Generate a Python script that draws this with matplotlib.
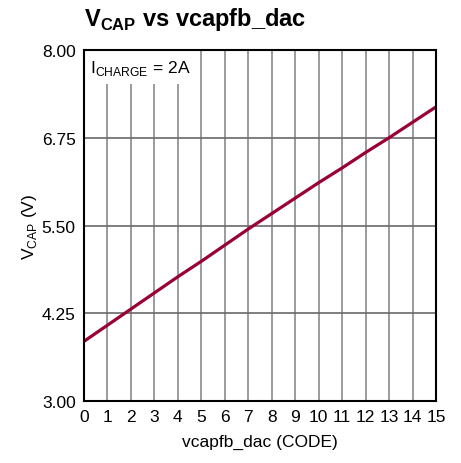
import numpy as np
import matplotlib
matplotlib.use('Agg')
import matplotlib.pyplot as plt
from matplotlib import font_manager

# Data
codes = np.arange(0, 16)
vcap = [3.85, 4.08, 4.31, 4.54, 4.77, 4.99, 5.22, 5.45,
        5.67, 5.89, 6.11, 6.32, 6.54, 6.75, 6.97, 7.19]
y_ticks = [3.00, 4.25, 5.50, 6.75, 8.00]
x_ticks = list(range(0, 16))

names = {f.name for f in font_manager.fontManager.ttflist}
fam = 'Liberation Sans Narrow' if 'Liberation Sans Narrow' in names else 'Liberation Sans'
plt.rcParams['font.family'] = [fam, 'DejaVu Sans']
plt.rcParams['mathtext.fontset'] = 'custom'
plt.rcParams['mathtext.rm'] = fam
plt.rcParams['mathtext.bf'] = fam + ':bold'

fig = plt.figure(figsize=(4.61, 4.64), dpi=100)
ax = fig.add_axes([0.1822, 0.1336, 0.7636, 0.7565])

ax.plot(codes, vcap, color='#990033', lw=2.3, zorder=3, solid_capstyle='butt')

ax.set_xlim(0, 15)
ax.set_ylim(3, 8)
ax.set_xticks(x_ticks)
ax.set_yticks(y_ticks)
ax.set_yticklabels(['%.2f' % v for v in y_ticks])
ax.tick_params(length=0, labelsize=12.5, pad=6)

for x in x_ticks[1:-1]:
    ax.axvline(x, color='#8a8a8a', lw=1.2, zorder=1)
for y in y_ticks[1:-1]:
    ax.axhline(y, color='#6a6a6a', lw=1.2, zorder=1)

for s in ax.spines.values():
    s.set_linewidth(1.5)
    s.set_color('black')
    s.set_zorder(4)

ax.set_xlabel('vcapfb_dac (CODE)', fontsize=12.5, labelpad=7)
ax.set_ylabel(r'V$_{\mathrm{CAP}}$ (V)', fontsize=12.5, labelpad=2)

ax.text(0.25, 7.88, r'I$_{\mathrm{CHARGE}}$ = 2A', fontsize=12.5, va='top', ha='left',
        zorder=2, bbox=dict(facecolor='white', edgecolor='none', pad=5))

fig.text(0.183, 0.945, r'V$_{\mathbf{CAP}}$ vs vcapfb_dac', fontsize=17,
         fontweight='bold', ha='left', va='baseline')

fig.savefig('out.png', dpi=100)
